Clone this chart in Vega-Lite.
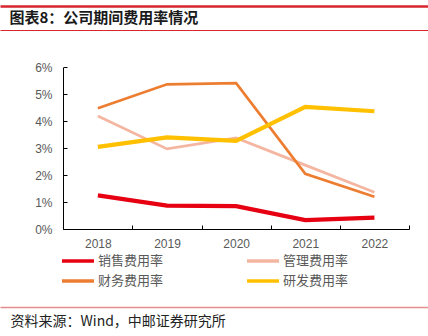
{
  "$schema": "https://vega.github.io/schema/vega-lite/v6.json",
  "autosize": {"type": "none"},
  "padding": {"left": 0, "right": 0, "top": 30, "bottom": 29},
  "width": 428,
  "height": 277,
  "background": "white",
  "config": {
    "view": {"stroke": null},
    "axis": {"grid": false}
  },
  "resolve": {"scale": {"x": "independent"}, "axis": {"x": "independent"}},
  "layer": [
    {
      "data": {"values": []},
      "mark": {"type": "rule"},
      "encoding": {
        "x": {
          "field": "topline",
          "type": "ordinal",
          "axis": {
            "orient": "top",
            "offset": 24,
            "domainColor": "#d7262e",
            "domainWidth": 2.5,
            "ticks": false,
            "labels": false,
            "title": null
          }
        }
      }
    },
    {
      "data": {"values": []},
      "mark": {"type": "rule"},
      "encoding": {
        "x": {
          "field": "titleline",
          "type": "ordinal",
          "axis": {
            "orient": "top",
            "offset": 0,
            "domainColor": "#d7262e",
            "domainWidth": 1.2,
            "ticks": false,
            "labels": false,
            "title": "图表8：公司期间费用率情况",
            "titleX": 9,
            "titleAlign": "left",
            "titleAnchor": "start",
            "titleFont": "Noto Sans CJK SC",
            "titleFontSize": 15,
            "titleFontWeight": "bold",
            "titleColor": "#1a1a1a",
            "titlePadding": 5
          }
        }
      }
    },
    {
      "data": {"values": []},
      "mark": {"type": "rule"},
      "encoding": {
        "x": {
          "field": "footline",
          "type": "ordinal",
          "axis": {
            "orient": "bottom",
            "offset": 0,
            "domainColor": "#e58c8c",
            "domainWidth": 1.5,
            "ticks": false,
            "labels": false,
            "title": "资料来源：Wind，中邮证券研究所",
            "titleX": 10,
            "titleAlign": "left",
            "titleAnchor": "start",
            "titleFont": "Noto Sans CJK SC",
            "titleFontSize": 14,
            "titleFontWeight": "normal",
            "titleColor": "#222222",
            "titlePadding": 7
          }
        }
      }
    },
    {
      "data": {
        "values": [
          {"year": "2018", "series": "销售费用率", "value": 0.0125},
          {"year": "2019", "series": "销售费用率", "value": 0.0087},
          {"year": "2020", "series": "销售费用率", "value": 0.0085},
          {"year": "2021", "series": "销售费用率", "value": 0.0033},
          {"year": "2022", "series": "销售费用率", "value": 0.0042},
          {"year": "2018", "series": "管理费用率", "value": 0.0419},
          {"year": "2019", "series": "管理费用率", "value": 0.0297},
          {"year": "2020", "series": "管理费用率", "value": 0.0338},
          {"year": "2021", "series": "管理费用率", "value": 0.0237},
          {"year": "2022", "series": "管理费用率", "value": 0.0136},
          {"year": "2018", "series": "财务费用率", "value": 0.0448},
          {"year": "2019", "series": "财务费用率", "value": 0.0537},
          {"year": "2020", "series": "财务费用率", "value": 0.0541},
          {"year": "2021", "series": "财务费用率", "value": 0.0205},
          {"year": "2022", "series": "财务费用率", "value": 0.012},
          {"year": "2018", "series": "研发费用率", "value": 0.0305},
          {"year": "2019", "series": "研发费用率", "value": 0.034},
          {"year": "2020", "series": "研发费用率", "value": 0.0327},
          {"year": "2021", "series": "研发费用率", "value": 0.0453},
          {"year": "2022", "series": "研发费用率", "value": 0.0437}
        ]
      },
      "encoding": {
        "x": {
          "field": "year",
          "type": "ordinal",
          "scale": {"range": [63.3, 409], "paddingInner": 0, "paddingOuter": 0},
          "axis": {
            "orient": "bottom",
            "offset": -78,
            "title": null,
            "labelAngle": 0,
            "domainColor": "#000000",
            "domainWidth": 1,
            "tickBand": "extent",
            "tickColor": "#000000",
            "tickSize": -4,
            "labelPadding": 13,
            "labelFont": "Liberation Sans",
            "labelFontSize": 12,
            "labelColor": "#595959"
          }
        },
        "y": {
          "field": "value",
          "type": "quantitative",
          "scale": {"domain": [0, 0.06], "range": [199, 37.3], "nice": false},
          "axis": {
            "orient": "left",
            "offset": -63,
            "title": null,
            "values": [0, 0.01, 0.02, 0.03, 0.04, 0.05, 0.06],
            "format": ".0%",
            "domainColor": "#000000",
            "domainWidth": 1,
            "tickColor": "#000000",
            "tickSize": -4,
            "labelPadding": 15,
            "labelFont": "Liberation Sans",
            "labelFontSize": 12,
            "labelColor": "#595959"
          }
        },
        "color": {
          "field": "series",
          "type": "nominal",
          "scale": {
            "domain": ["销售费用率", "财务费用率", "管理费用率", "研发费用率"],
            "range": ["#e60012", "#ed7d31", "#f4b6a0", "#ffc000"]
          },
          "legend": {
            "orient": "none",
            "legendX": 60,
            "legendY": 224,
            "columns": 2,
            "columnPadding": 81,
            "rowPadding": 6,
            "clipHeight": 14,
            "padding": 0,
            "title": null,
            "symbolType": "stroke",
            "symbolSize": 1024,
            "symbolStrokeWidth": 3.5,
            "labelFont": "Noto Sans CJK SC",
            "labelFontSize": 13,
            "labelColor": "#595959",
            "labelOffset": 2
          }
        }
      },
      "layer": [
        {
          "transform": [{"filter": "datum.series === '管理费用率' || datum.series === '财务费用率'"}],
          "mark": {"type": "line", "strokeWidth": 2.7, "strokeCap": "butt", "strokeJoin": "miter"}
        },
        {
          "transform": [{"filter": "datum.series === '销售费用率' || datum.series === '研发费用率'"}],
          "mark": {"type": "line", "strokeWidth": 4.2, "strokeCap": "butt", "strokeJoin": "miter"}
        }
      ]
    }
  ]
}
